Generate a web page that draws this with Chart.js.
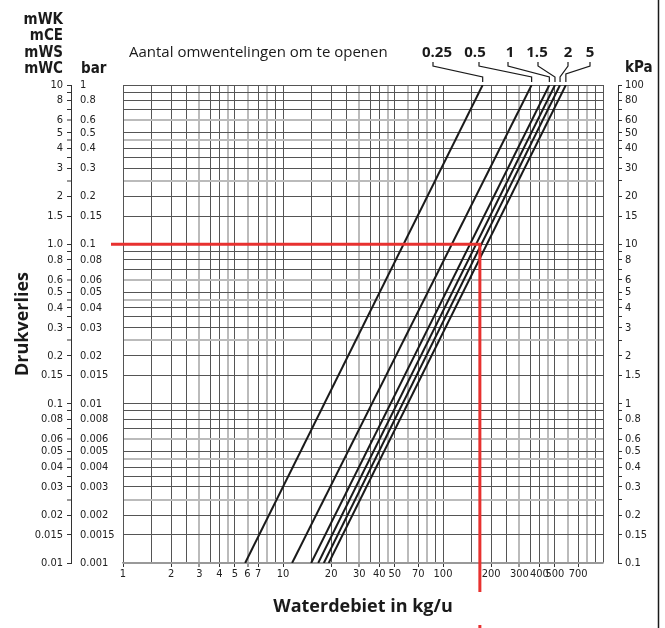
<!DOCTYPE html>
<html>
<head>
<meta charset="utf-8">
<script src="https://cdn.jsdelivr.net/npm/chart.js@4/dist/chart.umd.min.js"></script>
<style>
  html, body { margin: 0; padding: 0; background: #fff; }
  #wrap { width: 665px; height: 628px; position: relative; }
</style>
</head>
<body>
<div id="wrap"><canvas id="chart"></canvas></div>
<script>
// number of turns to open, one line each
const turns = ["0.25", "0.5", "1", "1.5", "2", "5"];
// flow (kg/u) where each line meets the bottom (0.01 mWK) and top (10 mWK)
const flowAtBottom = [5.8, 11.4, 15.0, 16.6, 18.0, 19.3];
const flowAtTop = [177, 358, 462, 501, 539, 586];
const dropBottom = 0.01;
const dropTop = 10;

// red reading example
const exampleFlow = 170;
const exampleDrop = 1.0;

// each decade is split at these steps
const gridSteps = [1, 1.5, 2, 2.5, 3, 3.5, 4, 4.5, 5, 6, 7, 8, 9];
const greyStepsX = [3, 4.5, 6, 8];
const greyStepsY = [2.5, 4.5, 6];

const xLabels = ["1", "2", "3", "4", "5", "6", "7", "10", "20", "30", "40", "50", "70", "100", "200", "300", "400", "500", "700"];
const mwkLabels = ["10", "8", "6", "5", "4", "3", "2", "1.5", "1.0", "0.8", "0.6", "0.5", "0.4", "0.3", "0.2", "0.15", "0.1", "0.08", "0.06", "0.05", "0.04", "0.03", "0.02", "0.015", "0.01"];
const barLabels = ["1", "0.8", "0.6", "0.5", "0.4", "0.3", "0.2", "0.15", "0.1", "0.08", "0.06", "0.05", "0.04", "0.03", "0.02", "0.015", "0.01", "0.008", "0.006", "0.005", "0.004", "0.003", "0.002", "0.0015", "0.001"];
const kpaLabels = ["100", "80", "60", "50", "40", "30", "20", "15", "10", "8", "6", "5", "4", "3", "2", "1.5", "1", "0.8", "0.6", "0.5", "0.4", "0.3", "0.2", "0.15", "0.1"];
const unitLabels = ["mWK", "mCE", "mWS", "mWC"];

const NARROW = "'Liberation Sans Narrow', 'DejaVu Sans Condensed', 'Liberation Sans', sans-serif";
const SANS = "'Open Sans', 'Liberation Sans', sans-serif";
const DARK = "#555";
const GREY = "#bbb";

function gridValues(min, max) {
    const out = [];
    for (let d = min; d < max * 0.999; d *= 10) {
        gridSteps.forEach(s => out.push(+(d * s).toPrecision(6)));
    }
    out.push(max);
    return out;
}

function labelFor(list, v) {
    const hit = list.find(s => Math.abs(parseFloat(s) - v) < v * 1e-6);
    return hit === undefined ? "" : hit;
}

function stepOf(v) {
    const e = Math.floor(Math.log10(v) + 1e-9);
    return +(v / Math.pow(10, e)).toPrecision(4);
}

function setTicks(min, max) {
    return scale => { scale.ticks = gridValues(min, max).map(v => ({ value: v })); };
}

const datasets = turns.map((t, i) => ({
    label: t,
    data: [{ x: flowAtBottom[i], y: dropBottom }, { x: flowAtTop[i], y: dropTop }],
    borderColor: "#1a1a1a",
    borderWidth: 2,
    pointRadius: 0,
    xAxisID: "x",
    yAxisID: "y"
}));

const annotations = {
    id: "annotations",
    afterDatasetsDraw(chart) {
        const { ctx, chartArea, scales } = chart;
        const xp = scales.x.getPixelForValue(exampleFlow);
        const yp = scales.y.getPixelForValue(exampleDrop);
        ctx.save();
        ctx.strokeStyle = "#e8312f";
        ctx.lineWidth = 3;
        ctx.beginPath();
        ctx.moveTo(chartArea.left - 12, yp);
        ctx.lineTo(xp, yp);
        ctx.lineTo(xp, chartArea.bottom + 29);
        ctx.moveTo(xp, chartArea.bottom + 62);
        ctx.lineTo(xp, chart.height);
        ctx.stroke();
        ctx.restore();
    },
    afterDraw(chart) {
        const { ctx, scales } = chart;
        ctx.save();
        ctx.fillStyle = "#1a1a1a";

        // unit headers
        ctx.font = "bold 15px " + NARROW;
        ctx.textAlign = "right";
        ctx.textBaseline = "alphabetic";
        [24, 40, 57, 73].forEach((y, i) => ctx.fillText(unitLabels[i], 63, y));
        ctx.textAlign = "left";
        ctx.fillText("bar", 81, 73);
        ctx.fillText("kPa", 625, 72);

        // legend title and turn labels
        ctx.font = "15px " + SANS;
        ctx.fillText("Aantal omwentelingen om te openen", 129, 57);
        ctx.font = "bold 15px " + SANS;
        ctx.textAlign = "center";
        const labelX = [437, 475, 510, 537, 568, 590];
        const leaderX = [433, 479, 508, 538, 568, 590];
        const bendY = [77, 77, 77, 77, 77, 74];
        turns.forEach((t, i) => ctx.fillText(t, labelX[i], 57));

        // leader lines from labels down to the line ends
        ctx.strokeStyle = "#1a1a1a";
        ctx.lineWidth = 1.2;
        turns.forEach((t, i) => {
            const endX = scales.x.getPixelForValue(flowAtTop[i]);
            ctx.beginPath();
            ctx.moveTo(leaderX[i], 62);
            ctx.lineTo(leaderX[i], 66);
            ctx.lineTo(endX, bendY[i]);
            ctx.lineTo(endX, 82);
            ctx.stroke();
        });

        // frame line on the right
        ctx.lineWidth = 1.5;
        ctx.beginPath();
        ctx.moveTo(658.5, 0);
        ctx.lineTo(658.5, chart.height);
        ctx.stroke();
        ctx.restore();
    }
};

Chart.defaults.font.family = NARROW;
Chart.defaults.font.size = 11;
Chart.defaults.color = "#222";

new Chart(document.getElementById("chart"), {
    type: "line",
    data: { datasets: datasets },
    options: {
        responsive: true,
        maintainAspectRatio: false,
        animation: false,
        layout: { padding: { top: 85, left: 0, right: 0, bottom: 0 } },
        plugins: { legend: { display: false }, tooltip: { enabled: false } },
        scales: {
            x: {
                type: "logarithmic",
                position: "bottom",
                min: 1,
                max: 1000,
                afterBuildTicks: setTicks(1, 1000),
                afterFit: s => { s.height = 65; },
                ticks: {
                    autoSkip: false,
                    maxRotation: 0,
                    minRotation: 0,
                    padding: 1,
                    callback: v => labelFor(xLabels, v)
                },
                grid: {
                    color: c => greyStepsX.includes(stepOf(c.tick.value)) ? GREY : DARK,
                    lineWidth: c => greyStepsX.includes(stepOf(c.tick.value)) ? 2 : 1,
                    tickLength: 4,
                    tickWidth: 1,
                    tickColor: c => labelFor(xLabels, c.tick.value) ? "#333" : "rgba(0,0,0,0)"
                },
                border: { display: true, color: "#999", width: 1.5 },
                title: {
                    display: true,
                    text: "Waterdebiet in kg/u",
                    color: "#1a1a1a",
                    font: { family: SANS, size: 18, weight: "bold" },
                    padding: { top: 0, bottom: 10 }
                }
            },
            y: {
                type: "logarithmic",
                position: "left",
                weight: 3,
                min: 0.01,
                max: 10,
                afterBuildTicks: setTicks(0.01, 10),
                afterFit: s => { s.width = 71; },
                ticks: {
                    autoSkip: false,
                    padding: 4,
                    callback: v => labelFor(mwkLabels, v)
                },
                grid: {
                    color: c => c.index === 0 ? "#999" : (greyStepsY.includes(stepOf(c.tick.value)) ? GREY : DARK),
                    lineWidth: c => greyStepsY.includes(stepOf(c.tick.value)) ? 2 : 1,
                    tickLength: 4,
                    tickWidth: 1,
                    tickColor: "#333"
                },
                border: { display: true, color: "#333", width: 1 },
                title: {
                    display: true,
                    text: "Drukverlies",
                    color: "#1a1a1a",
                    font: { family: SANS, size: 18, weight: "bold" },
                    padding: { top: 12, bottom: 0 }
                }
            },
            gapLeft: {
                type: "linear",
                position: "left",
                weight: 2,
                afterFit: s => { s.width = 9; },
                ticks: { display: false },
                grid: { display: false },
                border: { display: false }
            },
            yBar: {
                type: "logarithmic",
                position: "left",
                weight: 1,
                min: 0.001,
                max: 1,
                afterBuildTicks: setTicks(0.001, 1),
                afterFit: s => { s.width = 43; },
                ticks: {
                    autoSkip: false,
                    crossAlign: "far",
                    callback: v => labelFor(barLabels, v)
                },
                grid: { display: false },
                border: { display: false }
            },
            gapRight: {
                type: "linear",
                position: "right",
                weight: 1,
                afterFit: s => { s.width = 15; },
                ticks: { display: false },
                grid: { display: false },
                border: { display: false }
            },
            yKpa: {
                type: "logarithmic",
                position: "right",
                weight: 2,
                min: 0.1,
                max: 100,
                afterBuildTicks: setTicks(0.1, 100),
                afterFit: s => { s.width = 47; },
                ticks: {
                    autoSkip: false,
                    padding: 3,
                    callback: v => labelFor(kpaLabels, v)
                },
                grid: {
                    drawOnChartArea: false,
                    color: "#333",
                    tickLength: 4,
                    lineWidth: 1
                },
                border: { display: true, color: "#333", width: 1 }
            }
        }
    },
    plugins: [annotations]
});
</script>
</body>
</html>
